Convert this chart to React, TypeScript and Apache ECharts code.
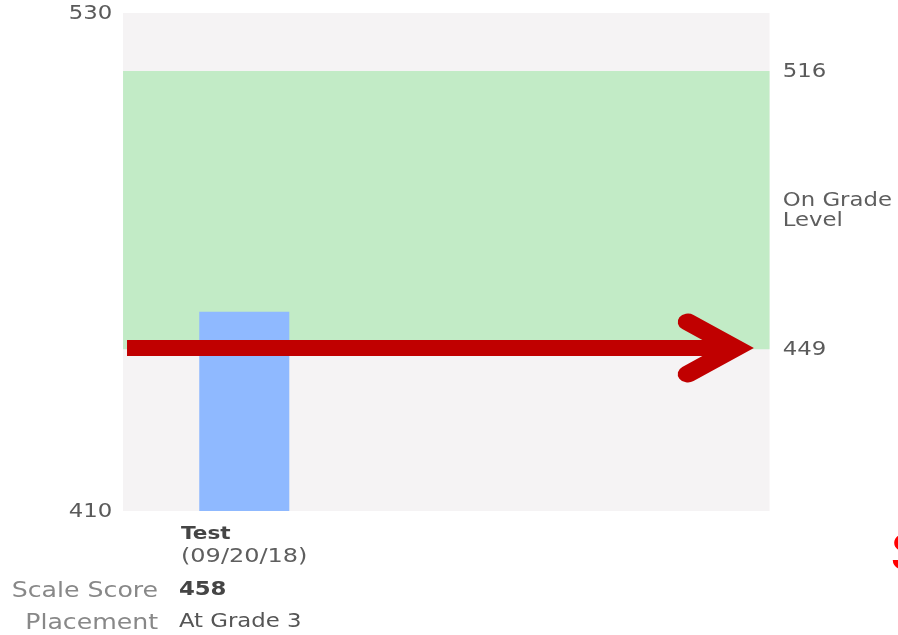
import React, { useEffect, useRef } from "react";
import * as echarts from "echarts";

// ---- data ----
const categories = ["", "Test", "", "", "", "", "", ""];
const testDates = ["", "09/20/18", "", "", "", "", "", ""];
const scaleScores: (number | null)[] = [null, 458, null, null, null, null, null, null];
const placements = ["", "At Grade 3", "", "", "", "", "", ""];
const yMin = 410;
const yMax = 530;
const leftTickLabels = [410, 530];
const bandRange = [449, 516];
const bandLabel = "On Grade\nLevel";
const rowLabels = ["Scale Score", "Placement"];
const sideText = "S";

const W = 748;
const H = 635;
const SX = 898 / W;
const FONT = "'DejaVu Sans', Verdana, sans-serif";

export default function App() {
  const ref = useRef<HTMLDivElement>(null);
  useEffect(() => {
    if (!ref.current) return;
    const chart = echarts.init(ref.current, undefined, { renderer: "svg" });
    const idx = scaleScores.findIndex((v) => v !== null);
    const gridLeft = 102.5;
    const gridRight = W - 641;
    const option: any = {
      animation: false,
      textStyle: { fontFamily: FONT },
      grid: {
        left: gridLeft,
        right: gridRight,
        top: 13,
        bottom: 124,
        show: true,
        backgroundColor: "#F5F3F4",
        borderWidth: 0,
      },
      xAxis: {
        type: "category",
        data: categories,
        axisLine: { show: false },
        axisTick: { show: false },
        axisLabel: {
          interval: 0,
          margin: 11,
          formatter: (v: string, i: number) =>
            v ? `{t|${v}}\n{d|(${testDates[i]})}` : "",
          rich: {
            t: { fontFamily: FONT, fontSize: 18, fontWeight: "bold", color: "#454545", align: "left", lineHeight: 22 },
            d: { fontFamily: FONT, fontSize: 20, color: "#5e5e5e", align: "left", lineHeight: 22 },
          },
        },
      },
      yAxis: {
        type: "value",
        min: yMin,
        max: yMax,
        interval: 10,
        splitLine: { show: false },
        axisLine: { show: false },
        axisTick: { show: false },
        axisLabel: {
          margin: 9,
          fontFamily: FONT,
          fontSize: 19,
          color: "#5a5a5a",
          formatter: (v: number) => (leftTickLabels.includes(v) ? String(v) : ""),
        },
      },
      series: [
        {
          type: "bar",
          data: scaleScores,
          barWidth: 75,
          itemStyle: { color: "#8FB9FF" },
          markArea: {
            silent: true,
            itemStyle: { color: "#C2EBC6" },
            label: {
              show: true,
              position: "right",
              distance: 11,
              formatter: bandLabel,
              fontFamily: FONT,
              fontSize: 19,
              lineHeight: 20,
              color: "#5e5e5e",
              align: "left",
            },
            data: [[{ yAxis: bandRange[0] }, { yAxis: bandRange[1] }]],
          },
          markLine: {
            silent: true,
            symbol: ["none", "none"],
            lineStyle: { color: "transparent", width: 1, type: "solid" },
            label: {
              show: true,
              position: "end",
              distance: 11,
              formatter: "{c}",
              fontFamily: FONT,
              fontSize: 19,
              color: "#5a5a5a",
            },
            data: bandRange.map((v) => ({ yAxis: v })),
          },
        },
      ],
      graphic: [
        // red annotation arrow
        {
          type: "polyline",
          shape: { points: [[105.8, 348], [612, 348]] },
          style: { stroke: "#C00000", lineWidth: 16, fill: null, lineCap: "butt" },
          z: 100,
        },
        {
          type: "polyline",
          shape: { points: [[573, 322], [612.5, 348], [573, 374]] },
          style: { stroke: "#C00000", lineWidth: 17, fill: null, lineCap: "round", lineJoin: "miter" },
          z: 100,
        },
        // bottom table
        {
          type: "text",
          x: 131.7,
          y: 589,
          style: { text: rowLabels[0], fontFamily: FONT, fontSize: 21, fill: "#888", align: "right", verticalAlign: "middle" },
        },
        {
          type: "text",
          x: 149,
          y: 589,
          style: { text: String(scaleScores[idx]), fontFamily: FONT, fontSize: 19, fontWeight: "bold", fill: "#454545", align: "left", verticalAlign: "middle" },
        },
        {
          type: "text",
          x: 131.7,
          y: 621,
          style: { text: rowLabels[1], fontFamily: FONT, fontSize: 21, fill: "#888", align: "right", verticalAlign: "middle" },
        },
        {
          type: "text",
          x: 149,
          y: 621,
          style: { text: placements[idx], fontFamily: FONT, fontSize: 19, fill: "#555", align: "left", verticalAlign: "middle" },
        },
        {
          type: "text",
          x: 741.5,
          y: 553,
          style: { text: sideText, fontFamily: "Roboto, sans-serif", fontSize: 53, fill: "#FF0000", align: "left", verticalAlign: "middle" },
        },
      ],
    };
    chart.setOption(option);
    return () => chart.dispose();
  }, []);
  return (
    <div
      ref={ref}
      style={{
        position: "fixed",
        left: 0,
        top: 0,
        width: W,
        height: H,
        transform: `scaleX(${SX})`,
        transformOrigin: "0 0",
      }}
    />
  );
}
